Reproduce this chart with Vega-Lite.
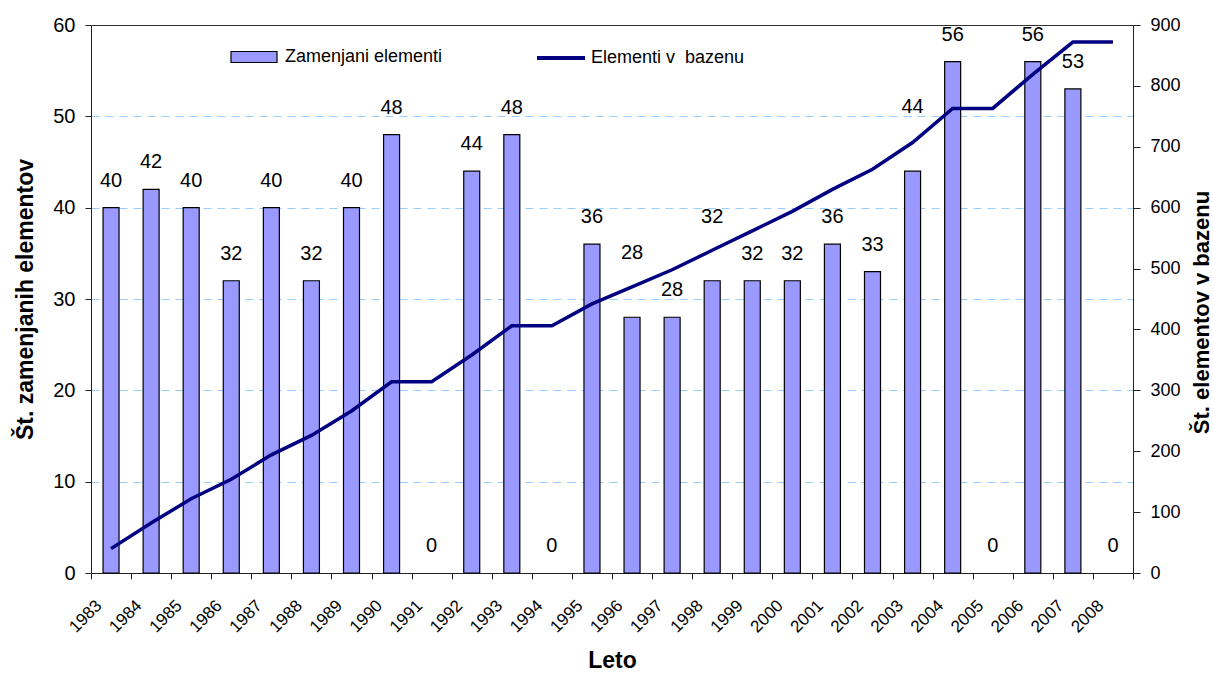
{
  "$schema": "https://vega.github.io/schema/vega-lite/v6.json",
  "width": 1042,
  "height": 548,
  "autosize": {"type": "none"},
  "padding": {"left": 91, "top": 25, "right": 80, "bottom": 100},
  "background": "white",
  "config": {
    "font": "Liberation Sans",
    "view": {"stroke": null},
    "axis": {"labelFont": "Liberation Sans", "titleFont": "Liberation Sans", "labelColor": "black", "titleColor": "black", "domainColor": "#222222", "tickColor": "#222222"}
  },
  "data": {
    "values": [
      {"leto": "1983", "zam": 40, "baza": 40},
      {"leto": "1984", "zam": 42, "baza": 82},
      {"leto": "1985", "zam": 40, "baza": 122},
      {"leto": "1986", "zam": 32, "baza": 154},
      {"leto": "1987", "zam": 40, "baza": 194},
      {"leto": "1988", "zam": 32, "baza": 226},
      {"leto": "1989", "zam": 40, "baza": 266},
      {"leto": "1990", "zam": 48, "baza": 314},
      {"leto": "1991", "zam": 0, "baza": 314},
      {"leto": "1992", "zam": 44, "baza": 358},
      {"leto": "1993", "zam": 48, "baza": 406},
      {"leto": "1994", "zam": 0, "baza": 406},
      {"leto": "1995", "zam": 36, "baza": 442},
      {"leto": "1996", "zam": 28, "baza": 470},
      {"leto": "1997", "zam": 28, "baza": 498},
      {"leto": "1998", "zam": 32, "baza": 530},
      {"leto": "1999", "zam": 32, "baza": 562},
      {"leto": "2000", "zam": 32, "baza": 594},
      {"leto": "2001", "zam": 36, "baza": 630},
      {"leto": "2002", "zam": 33, "baza": 663},
      {"leto": "2003", "zam": 44, "baza": 707},
      {"leto": "2004", "zam": 56, "baza": 763},
      {"leto": "2005", "zam": 0, "baza": 763},
      {"leto": "2006", "zam": 56, "baza": 819},
      {"leto": "2007", "zam": 53, "baza": 872},
      {"leto": "2008", "zam": 0, "baza": 872}
    ]
  },
  "encoding": {
    "x": {
      "field": "leto",
      "type": "ordinal",
      "scale": {"paddingInner": 0, "paddingOuter": 0},
      "axis": {
        "title": "Leto",
        "titleFontSize": 23,
        "titleFontWeight": "bold",
        "titlePadding": 14,
        "labelAngle": -45,
        "labelAlign": "right",
        "labelBaseline": "top",
        "labelFontSize": 17,
        "labelPadding": 18,
        "labelOffset": -18,
        "tickBand": "extent",
        "tickSize": 6,
        "grid": false
      }
    }
  },
  "layer": [
    {
      "layer": [
        {
          "transform": [{"filter": "datum.zam > 0"}],
          "mark": {"type": "bar", "stroke": "black", "strokeWidth": 1.2, "width": 16},
          "encoding": {
            "y": {
              "field": "zam",
              "type": "quantitative",
              "scale": {"domain": [0, 60], "nice": false},
              "axis": {
                "title": "Št. zamenjanih elementov",
                "titleFontSize": 23,
                "titleFontWeight": "bold",
                "titlePadding": 15,
                "values": [0, 10, 20, 30, 40, 50, 60],
                "labelFontSize": 20,
                "labelPadding": 10,
                "tickSize": 6,
                "grid": true,
                "gridColor": {"condition": {"test": "datum.value == 60", "value": "#333333"}, "value": "#99CCFF"},
                "gridDash": {"condition": {"test": "datum.value == 60", "value": []}, "value": [8, 6]},
                "gridWidth": 1
              }
            },
            "fill": {
              "datum": "Zamenjani elementi",
              "type": "nominal",
              "scale": {"range": ["#9999FF"]},
              "legend": {
                "orient": "none",
                "legendX": 139,
                "legendY": 8,
                "title": null,
                "padding": 0,
                "labelFontSize": 18,
                "labelFont": "Liberation Sans",
                "labelColor": "black",
                "labelOffset": 7,
                "symbolType": "M-1,-0.24H1V0.24H-1Z",
                "symbolSize": 2116,
                "symbolStrokeColor": "black",
                "symbolStrokeWidth": 1.2,
                "symbolFillColor": "#9999FF"
              }
            }
          }
        },
        {
          "transform": [{"filter": {"not": {"field": "leto", "oneOf": ["1996", "1998", "2003"]}}}],
          "mark": {"type": "text", "baseline": "middle", "dy": -27, "fontSize": 20, "font": "Liberation Sans", "color": "black"},
          "encoding": {
            "y": {"field": "zam", "type": "quantitative"},
            "text": {"field": "zam", "type": "quantitative"}
          }
        },
        {
          "transform": [{"filter": {"field": "leto", "oneOf": ["1996", "1998", "2003"]}}],
          "mark": {"type": "text", "baseline": "middle", "dy": -64, "fontSize": 20, "font": "Liberation Sans", "color": "black"},
          "encoding": {
            "y": {"field": "zam", "type": "quantitative"},
            "text": {"field": "zam", "type": "quantitative"}
          }
        }
      ]
    },
    {
      "mark": {"type": "line", "strokeWidth": 3.5, "strokeJoin": "miter"},
      "encoding": {
        "y": {
          "field": "baza",
          "type": "quantitative",
          "scale": {"domain": [0, 900], "nice": false},
          "axis": {
            "orient": "right",
            "title": "Št. elementov v bazenu",
            "titleFontSize": 22,
            "titleFontWeight": "bold",
            "titleAngle": 270,
            "titleBaseline": "top",
            "titlePadding": 11,
            "titleY": 287,
            "values": [0, 100, 200, 300, 400, 500, 600, 700, 800, 900],
            "labelFontSize": 18,
            "labelPadding": 10,
            "tickSize": 7,
            "grid": false
          }
        },
        "stroke": {
          "datum": "Elementi v\u00a0 bazenu",
          "type": "nominal",
          "scale": {"range": ["#000080"]},
          "legend": {
            "orient": "none",
            "legendX": 444,
            "legendY": 7,
            "title": null,
            "padding": 0,
            "labelFontSize": 18,
            "labelFont": "Liberation Sans",
            "labelColor": "black",
            "labelOffset": 4,
            "symbolType": "stroke",
            "symbolSize": 2304,
            "symbolStrokeWidth": 4,
            "symbolStrokeColor": "#000080"
          }
        }
      }
    }
  ],
  "resolve": {"scale": {"y": "independent"}}
}
